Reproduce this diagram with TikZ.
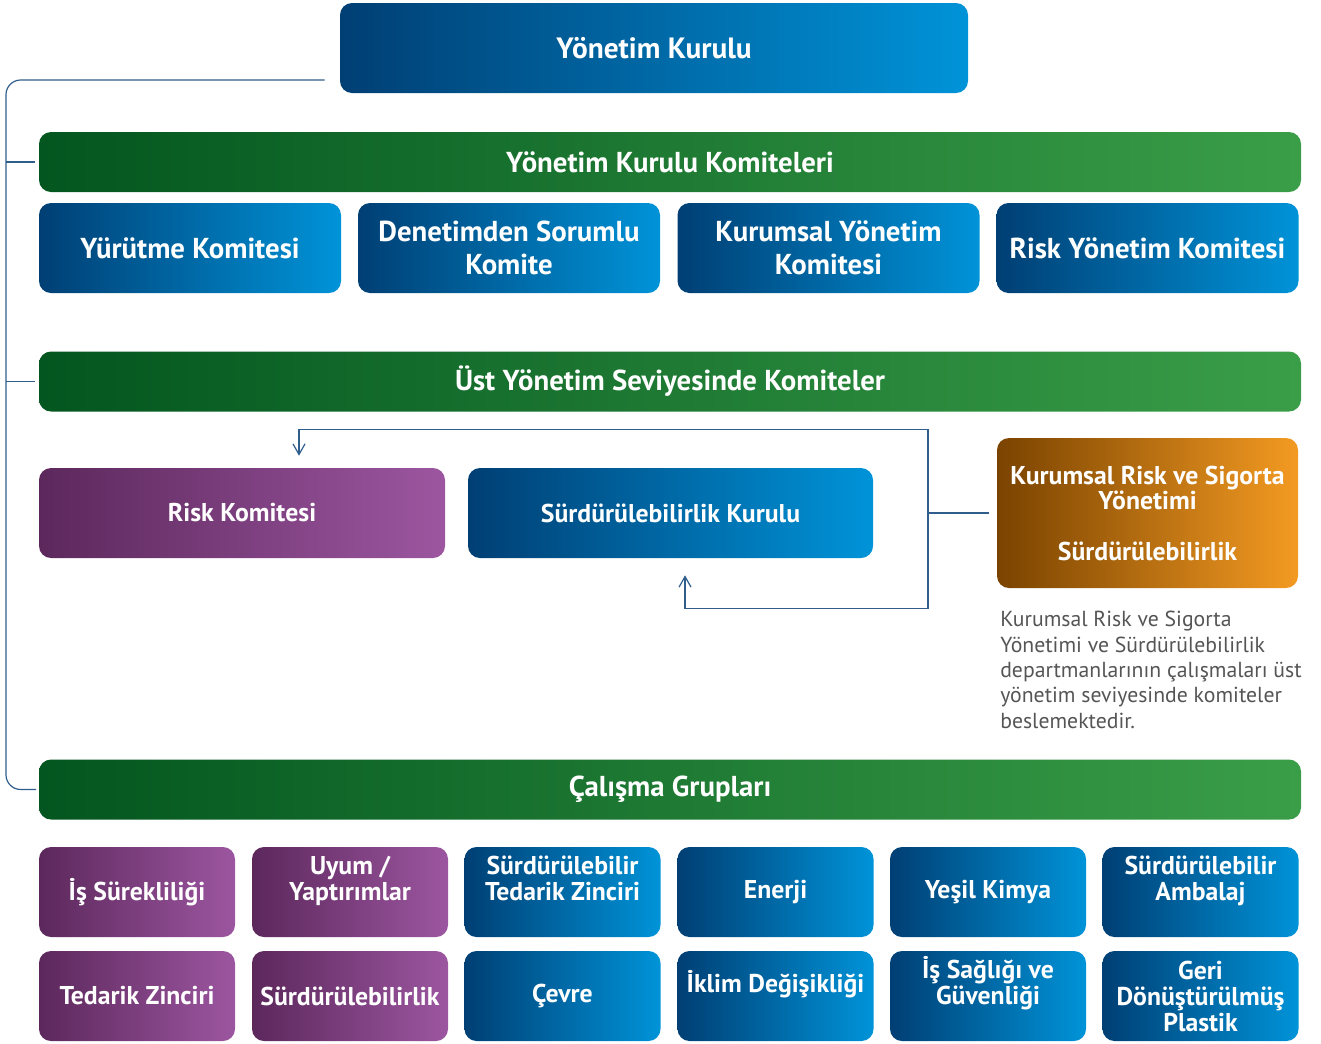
\documentclass[tikz,border=0pt]{standalone}
\usepackage{fontspec}
\setmainfont{PT Sans}
\usepackage{tikz}
\usetikzlibrary{
  arrows.meta,
  positioning,
  calc
}
\definecolor{BlueL}{HTML}{003F74}
\definecolor{BlueR}{HTML}{0093D8}
\definecolor{GreenL}{HTML}{03561F}
\definecolor{GreenR}{HTML}{3A9E48}
\definecolor{PurpleL}{HTML}{5C285C}
\definecolor{PurpleR}{HTML}{9C56A0}
\definecolor{OrangeL}{HTML}{7A4300}
\definecolor{OrangeR}{HTML}{F39A22}
\definecolor{LineBlue}{HTML}{2F5D8C}
\definecolor{NoteGray}{HTML}{555555}
\tikzset{
  % Gradient box: colour pair by name, fixed size
  box/.style={
    rectangle, rounded corners=9pt,
    left color=#1L, right color=#1R, draw=none,
    minimum width=226.5pt, minimum height=67.5pt,
    align=center, text=white, font=\bfseries\fontsize{21.6}{24.75}\selectfont
  },
  % Full-width header bar
  bar/.style={box=Green, minimum width=946.5pt, minimum height=45pt},
  % Mid-level box
  mid/.style={box=#1, minimum width=304.5pt, font=\bfseries\fontsize{19.3}{19}\selectfont},
  % Working-group tile
  tile/.style={box=#1, minimum width=147pt, font=\bfseries\fontsize{19.3}{19.5}\selectfont},
  % Shift tile text off centre
  lift/.style 2 args={text height=#1, text depth=#2},
  % Connector line
  conn/.style={draw=LineBlue, line width=0.9pt},
  % Open arrow head
  tip/.style={-{Straight Barb[length=8pt,width=9pt]}},
  % Side note text
  note/.style={text=NoteGray, font=\fontsize{16.3}{19}\selectfont, align=left, anchor=north west, inner sep=0pt}
}
\begin{document}
\begin{tikzpicture}[x=0.75pt, y=-0.75pt]
  \useasboundingbox (0,0) rectangle (1321,1043);
  % board and committees
  \node[box=Blue, minimum width=471pt, font=\bfseries\fontsize{22}{26}\selectfont] (top) at (654,48) {Yönetim Kurulu};
  \node[bar] (bar1) at (670,162) {Yönetim Kurulu Komiteleri};
  \node[box=Blue] (yur) at (190,248) {Yürütme Komitesi};
  \node[box=Blue] (den) at (509,248) {Denetimden Sorumlu\\Komite};
  \node[box=Blue] (kur) at (828.5,248) {Kurumsal Yönetim\\Komitesi};
  \node[box=Blue] (rsk) at (1147.5,248) {Risk Yönetim Komitesi};
  % senior management level
  \node[bar] (bar2) at (670,381.5) {Üst Yönetim Seviyesinde Komiteler};
  \node[mid=Purple] (risk) at (242,513) {Risk Komitesi};
  \node[mid=Blue, minimum width=303.75pt] (kurul) at (670.5,513) {Sürdürülebilirlik Kurulu};
  \node[mid=Orange, minimum width=225.75pt, minimum height=112.5pt] (dept) at (1147.5,513) {Kurumsal Risk ve Sigorta\\Yönetimi\\[19pt]Sürdürülebilirlik};
  \node[note] (info) at (1000,611) {Kurumsal Risk ve Sigorta\\Yönetimi ve Sürdürülebilirlik\\departmanlarının çalışmaları üst\\yönetim seviyesinde komiteler\\beslemektedir.};
  % working groups
  \node[bar] (bar3) at (670,789.5) {Çalışma Grupları};
  \node[tile=Purple] (g1) at (137,892) {İş Sürekliliği};
  \node[tile=Purple, lift={17pt}{5pt}] (g2) at (350,892) {Uyum /\\Yaptırımlar};
  \node[tile=Blue, lift={17pt}{5pt}] (g3) at (562.5,892) {Sürdürülebilir\\Tedarik Zinciri};
  \node[tile=Blue] (g4) at (775.5,892) {Enerji};
  \node[tile=Blue] (g5) at (988,892) {Yeşil Kimya};
  \node[tile=Blue, lift={17pt}{5pt}] (g6) at (1200.5,892) {Sürdürülebilir\\Ambalaj};
  \node[tile=Purple] (g7) at (137,996) {Tedarik Zinciri};
  \node[tile=Purple] (g8) at (350,996) {Sürdürülebilirlik};
  \node[tile=Blue] (g9) at (562.5,996) {Çevre};
  \node[tile=Blue, lift={14pt}{20pt}] (g10) at (775.5,996) {İklim Değişikliği};
  \node[tile=Blue, lift={17pt}{5pt}] (g11) at (988,996) {İş Sağlığı ve\\Güvenliği};
  \node[tile=Blue] (g12) at (1200.5,996) {Geri\\Dönüştürülmüş\\Plastik};
  % spine on the left
  \coordinate (spine) at (6,0);
  \draw[conn] ([shift={(-11.25pt,-24pt)}]top.west) [rounded corners=11pt] -| (spine |- bar3.west) [sharp corners] -- ([xshift=-2pt]bar3.west);
  \draw[conn] (spine |- bar1.west) -- ([xshift=-3pt]bar1.west);
  \draw[conn] (spine |- bar2.west) -- ([xshift=-3pt]bar2.west);
  % feedback loop from the departments
  \coordinate (loop) at (928,0);
  \draw[conn] ([xshift=-6pt]dept.west) -- (loop |- dept.west);
  \draw[conn, tip] (loop |- dept.west) |- ([shift={(42.75pt,28.5pt)}]risk.north) -- ([shift={(42.75pt,9pt)}]risk.north);
  \draw[conn, tip] (loop |- dept.west) |- ([shift={(10.9pt,-37.5pt)}]kurul.south) -- ([shift={(10.9pt,-12.75pt)}]kurul.south);
\end{tikzpicture}
\end{document}
